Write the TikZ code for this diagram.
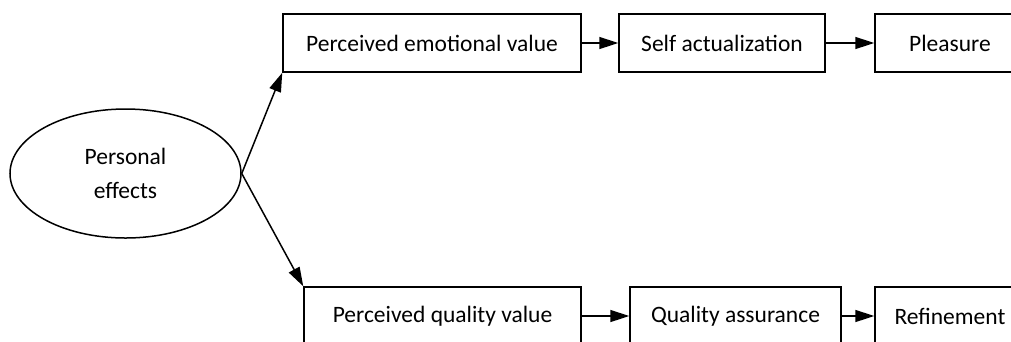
\documentclass[tikz,border=0pt]{standalone}
\usepackage{fontspec}
\setmainfont{Carlito}
\usetikzlibrary{arrows.meta,shapes.geometric}
\begin{document}
\begin{tikzpicture}[x=1pt,y=-1pt,
  box/.style={draw, line width=1.5pt, rectangle, inner sep=0pt, minimum height=58pt, font=\fontsize{23.5}{28}\selectfont},
  oval/.style={draw, line width=1.5pt, ellipse, inner sep=0pt, minimum width=231pt, minimum height=129pt, align=center, font=\fontsize{23.5}{34}\selectfont},
  arr/.style={line width=1.5pt, -{Triangle[length=19pt,width=12pt]}}]
\useasboundingbox (0,0) rectangle (1011,341);
\clip (0,0) rectangle (1011,341);
\node[oval] (pe) at (125.5,173.5) {Personal\\effects};
\node[box, minimum width=298pt] (b1) at (432,43) {Perceived emotional value};
\node[box, minimum width=206pt] (b2) at (722,43) {Self actualization};
\node[box, minimum width=150pt] (b3) at (950,43) {Pleasure};
\node[box, minimum width=277pt] (b4) at (442.5,316) {Perceived quality value};
\node[box, minimum width=211pt] (b5) at (735.5,316) {Quality assurance};
\node[box, minimum width=150pt] (b6) at (950,316) {Refinement};
\draw[arr] (pe.east) -- (b1.south west);
\draw[arr] (pe.east) -- (b4.north west);
\draw[arr] (b1) -- (b2);
\draw[arr] (b2) -- (b3);
\draw[arr] (b4) -- (b5);
\draw[arr] (b5) -- (b6);
\end{tikzpicture}
\end{document}
